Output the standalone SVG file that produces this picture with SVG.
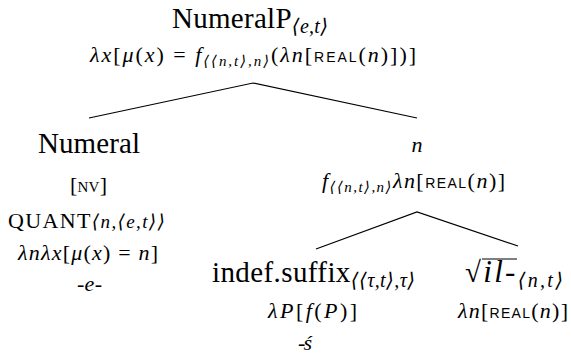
<svg xmlns="http://www.w3.org/2000/svg" width="571" height="362" viewBox="0 0 571 362">
<style>
text{font-family:"Liberation Serif","DejaVu Serif",serif;fill:#000}
.big{font-size:29px}
.m{font-size:22px}
.i{font-style:italic}
.sub{font-size:20px;font-style:italic}
.ssub{font-size:15px;font-style:italic}
.sc{font-family:"Liberation Sans","DejaVu Sans",sans-serif;font-size:14px;font-style:normal}
.sm{font-size:15px}
.edge{stroke:#000;stroke-width:1.2;fill:none}
</style>
<rect width="571" height="362" fill="#fff"/>
<g id="connectors">
<polyline class="edge" points="89,118 253,83 417,118"/>
<polyline class="edge" points="316,249 417,212 518,246"/>
</g>
<g id="numeralP">
<text x="172" y="28" class="big" textLength="156" lengthAdjust="spacing">NumeralP<tspan class="sub" dy="5">⟨e,t⟩</tspan></text>
<text x="90" y="62" class="m" textLength="326" lengthAdjust="spacing"><tspan class="i">λx</tspan>[<tspan class="i">μ</tspan>(<tspan class="i">x</tspan>) = <tspan class="i">f</tspan><tspan class="ssub" dy="4">⟨⟨n,t⟩,n⟩</tspan><tspan dy="-4">(</tspan><tspan class="i">λn</tspan>[<tspan class="sc">REAL</tspan>(<tspan class="i">n</tspan>)])]</text>
</g>
<g id="numeral">
<text x="38" y="153" class="big" textLength="102" lengthAdjust="spacing">Numeral</text>
<text x="70" y="192" class="m" textLength="37" lengthAdjust="spacing">[<tspan class="sm">NV</tspan>]</text>
<text x="8" y="228" class="m" font-size="24" textLength="157" lengthAdjust="spacing">QUANT<tspan class="i" font-size="19">⟨n,⟨e,t⟩⟩</tspan></text>
<text x="18" y="260" class="m" textLength="140" lengthAdjust="spacing"><tspan class="i">λnλx</tspan>[<tspan class="i">μ</tspan>(<tspan class="i">x</tspan>) = <tspan class="i">n</tspan>]</text>
<text x="77" y="291" class="m i" font-size="23" textLength="25" lengthAdjust="spacing">-e-</text>
</g>
<g id="n">
<text x="417" y="152" class="m i" text-anchor="middle">n</text>
<text x="322" y="188" class="m" textLength="183" lengthAdjust="spacing"><tspan class="i">f</tspan><tspan class="ssub" dy="4">⟨⟨n,t⟩,n⟩</tspan><tspan class="i" dy="-4">λn</tspan>[<tspan class="sc">REAL</tspan>(<tspan class="i">n</tspan>)]</text>
</g>
<g id="indef">
<text x="212" y="282" class="big" textLength="203" lengthAdjust="spacing">indef.suffix<tspan class="sub" font-size="21" dy="5">⟨⟨τ,t⟩,τ⟩</tspan></text>
<text x="268" y="318" class="m" textLength="89" lengthAdjust="spacing"><tspan class="i">λP</tspan>[<tspan class="i">f</tspan>(<tspan class="i">P</tspan>)]</text>
<text x="298" y="350" class="m i" font-size="23" textLength="14" lengthAdjust="spacing">-ś</text>
</g>
<g id="root">
<line class="edge" x1="482" y1="259" x2="517" y2="259" stroke-width="1.4"/>
<text x="465" y="282" class="big" textLength="98" lengthAdjust="spacing">√<tspan class="i" font-size="31">il-</tspan><tspan class="sub" font-size="21" dy="5">⟨n,t⟩</tspan></text>
<text x="458" y="318" class="m" textLength="110" lengthAdjust="spacing"><tspan class="i">λn</tspan>[<tspan class="sc">REAL</tspan>(<tspan class="i">n</tspan>)]</text>
</g>
</svg>
